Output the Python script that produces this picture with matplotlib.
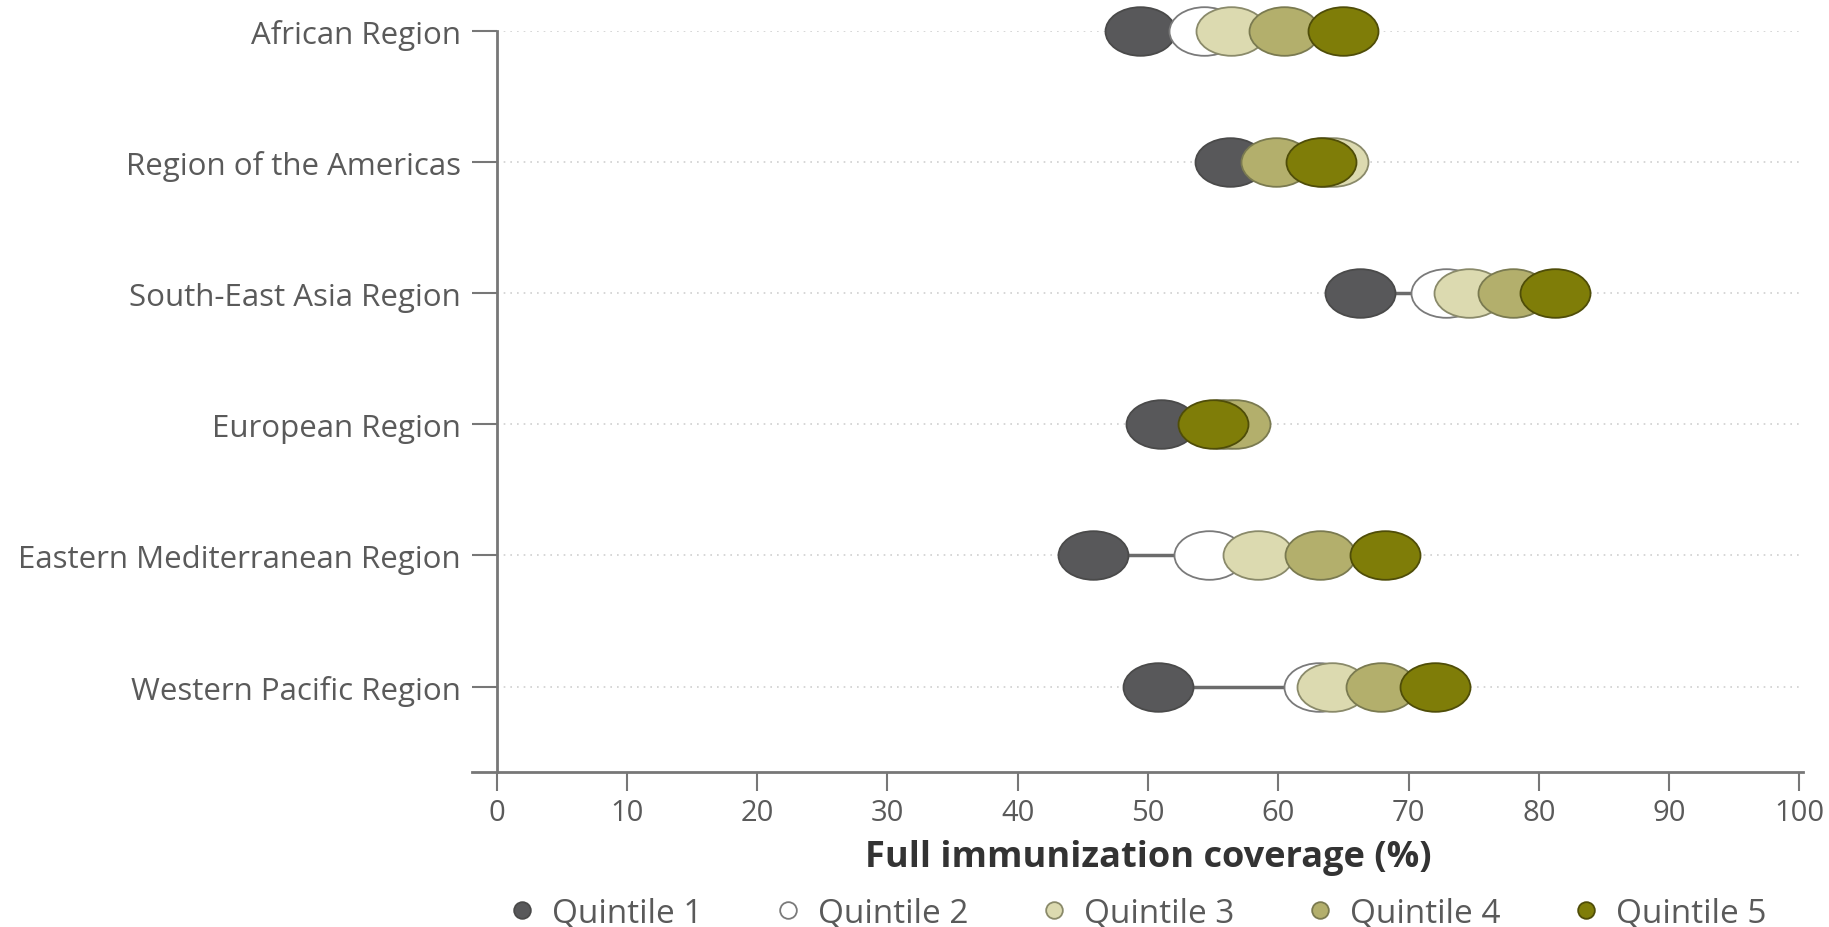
import matplotlib
matplotlib.use("Agg")
from matplotlib import pyplot as plt
from matplotlib.path import Path
from matplotlib.transforms import Affine2D
from matplotlib.lines import Line2D

# Coverage by wealth quintile, per WHO region
regions = ["African Region", "Region of the Americas", "South-East Asia Region",
           "European Region", "Eastern Mediterranean Region", "Western Pacific Region"]
q1 = [49.4, 56.3, 66.3, 51.0, 45.8, 50.8]
q2 = [54.3, 63.5, 72.9, 55.5, 54.7, 63.1]
q3 = [56.4, 64.2, 74.6, 56.0, 58.4, 64.1]
q4 = [60.4, 59.8, 78.0, 56.7, 63.2, 67.9]
q5 = [65.0, 63.3, 81.2, 55.0, 68.2, 72.0]
quintiles = [q1, q2, q3, q4, q5]
labels = ["Quintile 1", "Quintile 2", "Quintile 3", "Quintile 4", "Quintile 5"]
xticks = list(range(0, 101, 10))

colors = ["#58585a", "#ffffff", "#dcdab0", "#b3af6c", "#7f7d08"]
edges = ["#4a4a4a", "#7a7a7a", "#8a8a6a", "#7a7a50", "#4f4d08"]
text_col = "#5a5a5a"

plt.rcParams['font.family'] = ['Open Sans', 'DejaVu Sans']

# wide elliptical marker
ellipse = Path.unit_circle().transformed(Affine2D().scale(1.44, 1.0))

fig = plt.figure(figsize=(18.29, 9.28), dpi=100)
ax = fig.add_axes([0.258, 0.167, 0.728, 0.799])

ypos = list(range(len(regions)))

# dotted guide lines
for y in ypos:
    ax.plot([0, 100.3], [y, y], linestyle=(0, (1, 3)), color="#d0d0d0", lw=1.2, zorder=1)

# connector from lowest to highest quintile
lo = [min(v) for v in zip(*quintiles)]
hi = [max(v) for v in zip(*quintiles)]
ax.hlines(ypos, lo, hi, color="#6b6b6b", lw=2.5, zorder=2)

for i, q in enumerate(quintiles):
    ax.scatter(q, ypos, s=2540, marker=ellipse, facecolor=colors[i],
               edgecolor=edges[i], linewidth=1.3, zorder=3 + i, clip_on=False)

ax.set_xlim(-1.9, 100.3)
ax.set_ylim(5.65, 0)
ax.set_yticks(ypos)
ax.set_yticklabels(regions)
ax.set_xticks(xticks)

for s in ["top", "right"]:
    ax.spines[s].set_visible(False)
ax.spines["left"].set_position(("data", 0))
for s in ["left", "bottom"]:
    ax.spines[s].set_color("#777777")
    ax.spines[s].set_linewidth(2)

ax.tick_params(axis="y", length=18, width=1.5, color="#777777", pad=8,
               labelsize=22.5, labelcolor=text_col)
ax.tick_params(axis="x", length=14, width=1.5, color="#777777", pad=5,
               labelsize=21, labelcolor=text_col)

ax.text(50, -0.115, "Full immunization coverage (%)", transform=ax.get_xaxis_transform(),
        ha="center", va="center", fontsize=26, fontweight="bold", color="#333333")

handles = [Line2D([], [], linestyle="none", marker="o", markersize=12,
                  markerfacecolor=colors[i], markeredgecolor=edges[i], markeredgewidth=1.3)
           for i in range(5)]
fig.legend(handles, labels, loc="center", bbox_to_anchor=(0.621, 0.015), ncol=5,
           frameon=False, fontsize=24, labelcolor=text_col, handlelength=1.0,
           handletextpad=0.4, columnspacing=2.07)

fig.savefig("out.png", dpi=100)
